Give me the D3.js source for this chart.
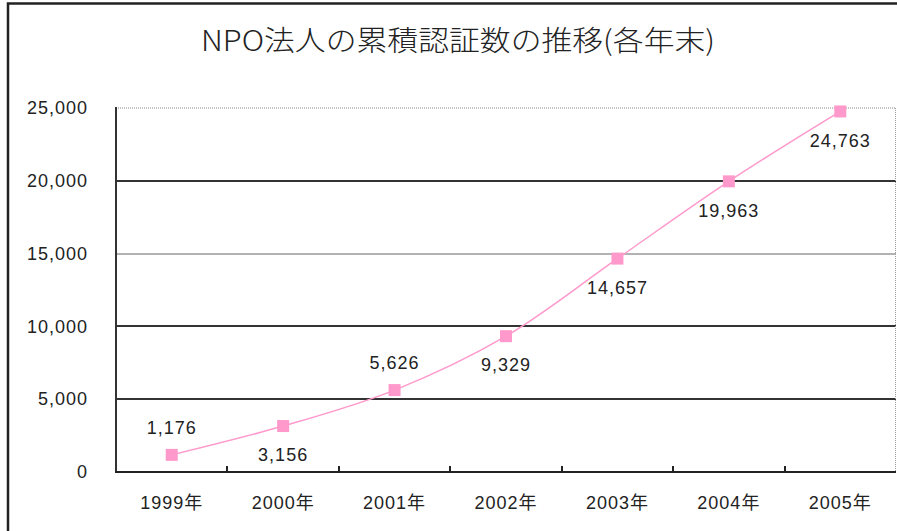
<!DOCTYPE html>
<html><head><meta charset="utf-8">
<script src="https://cdn.jsdelivr.net/npm/d3@7"></script>
<style>
html,body{margin:0;padding:0;background:#fff;}
svg{display:block;}
text{font-family:"Liberation Sans",Arial,sans-serif;fill:#222;}
</style></head>
<body><svg id="c" width="897" height="531"></svg>
<script>
const title = "NPO法人の累積認証数の推移(各年末)";
const categories = ["1999年","2000年","2001年","2002年","2003年","2004年","2005年"];
const values = [1176, 3156, 5626, 9329, 14657, 19963, 24763];
const labelAbove = [true, false, true, false, false, false, false];
const yTicks = [0, 5000, 10000, 15000, 20000, 25000];

const svg = d3.select("#c");
const m = {left:116, right:896, top:108, bottom:472};

// outer frame
svg.append("path").attr("d","M8,531 V3.5 H897").attr("fill","none").attr("stroke","#222").attr("stroke-width",2.5);

// title
svg.append("text").attr("x",458).attr("y",51).attr("text-anchor","middle")
  .style("font-family","'Noto Sans CJK JP',sans-serif").style("font-weight","300")
  .style("font-size","28px").attr("fill","#333")
  .attr("textLength",514).attr("lengthAdjust","spacingAndGlyphs").text(title);

const x = d3.scaleBand().domain(categories).range([m.left, m.right]).padding(0);
const y = d3.scaleLinear().domain([0,25000]).range([m.bottom, m.top]);

// gridlines
const g = svg.append("g");
yTicks.filter(t=>t>0).forEach(t=>{
  const yy = Math.round(y(t));
  const line = g.append("line").attr("x1",m.left).attr("x2",m.right).attr("y1",yy).attr("y2",yy);
  if (t===25000) line.attr("stroke","#888").attr("stroke-width",1).attr("stroke-dasharray","1,1");
  else if (t===15000) line.attr("stroke","#666").attr("stroke-width",1);
  else line.attr("stroke","#333").attr("stroke-width",2);
});
// right border
g.append("line").attr("x1",m.right-0.5).attr("x2",m.right-0.5).attr("y1",m.top).attr("y2",m.bottom)
  .attr("stroke","#999").attr("stroke-width",1).attr("stroke-dasharray","1,1");

// y axis
const yAxis = svg.append("g").attr("transform",`translate(${m.left},0)`)
  .call(d3.axisLeft(y).tickValues(yTicks).tickSize(0).tickPadding(28).tickFormat(d3.format(",")));
yAxis.select(".domain").remove();
yAxis.selectAll("text").style("font-size","18px").style("letter-spacing","1px").attr("fill","#222")
  .style("font-family","'Liberation Sans',Arial,sans-serif");
svg.append("line").attr("x1",m.left).attr("x2",m.left).attr("y1",m.top-1).attr("y2",m.bottom+1)
  .attr("stroke","#333").attr("stroke-width",2);

// x axis
const xAxis = svg.append("g").attr("transform",`translate(0,${m.bottom})`)
  .call(d3.axisBottom(x).tickSize(0).tickPadding(24));
xAxis.select(".domain").remove();
xAxis.selectAll("text").style("font-size","18px").style("letter-spacing","1px").attr("fill","#222")
  .style("font-family","'Liberation Sans','Noto Sans CJK JP',sans-serif");
svg.append("line").attr("x1",m.left-1).attr("x2",m.right).attr("y1",m.bottom).attr("y2",m.bottom)
  .attr("stroke","#222").attr("stroke-width",2);
// category boundary ticks (inside)
categories.slice(1).forEach(c=>{
  const xx = Math.round(x(c));
  svg.append("line").attr("x1",xx).attr("x2",xx).attr("y1",m.bottom).attr("y2",m.bottom-6)
    .attr("stroke","#222").attr("stroke-width",2);
});

// line
const cx = (c)=> x(c)+x.bandwidth()/2;
const pts = categories.map((c,i)=>[cx(c), y(values[i])]);
svg.append("path").attr("d", d3.line().curve(d3.curveCatmullRom.alpha(0.5))(pts))
  .attr("fill","none").attr("stroke","#ff99cc").attr("stroke-width",1.5);

// markers
svg.selectAll("rect.mk").data(categories).enter().append("rect").attr("class","mk")
  .attr("x",(c)=>cx(c)-6).attr("y",(c,i)=>y(values[i])-6).attr("width",12).attr("height",12)
  .attr("fill","#ff99cc");

// labels
svg.selectAll("text.lb").data(categories).enter().append("text").attr("class","lb")
  .attr("x",(c)=>cx(c)).attr("y",(c,i)=>y(values[i]) + (labelAbove[i] ? -27 : 29))
  .attr("dy","0.35em").attr("text-anchor","middle")
  .style("font-size","18px").style("letter-spacing","1px").attr("fill","#222")
  .text((c,i)=>d3.format(",")(values[i]));
</script></body></html>
